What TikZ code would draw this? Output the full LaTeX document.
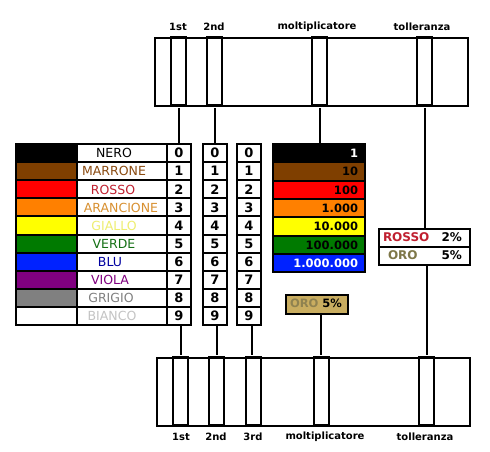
\documentclass[tikz,border=0pt]{standalone}
\usepackage{fontspec}
\setmainfont{DejaVu Sans}
\definecolor{cbrown}{HTML}{7F3F00}
\definecolor{cred}{HTML}{FF0000}
\definecolor{corange}{HTML}{FF8000}
\definecolor{cyellow}{HTML}{FFFF00}
\definecolor{cgreen}{HTML}{007A00}
\definecolor{cblue}{HTML}{0022FF}
\definecolor{cviolet}{HTML}{800080}
\definecolor{cgrey}{HTML}{808080}
\definecolor{tbrown}{HTML}{8A4A10}
\definecolor{tred}{HTML}{C02030}
\definecolor{torange}{HTML}{D89030}
\definecolor{tyellow}{HTML}{EEEE70}
\definecolor{tgreen}{HTML}{157015}
\definecolor{tblue}{HTML}{0000A0}
\definecolor{tviolet}{HTML}{800080}
\definecolor{tgrey}{HTML}{808080}
\definecolor{twhite}{HTML}{C4C4C4}
\definecolor{orofill}{HTML}{C9AD60}
\definecolor{orotext}{HTML}{8F8250}
\definecolor{orotextb}{HTML}{7E7748}
\begin{document}
\begin{tikzpicture}[x=1pt,y=-1pt,line width=2pt,
  cell/.style={draw=black,minimum width=#1,minimum height=18.1pt,inner sep=0pt,outer sep=0pt,anchor=north west},
  mcell/.style={draw=black,minimum width=92pt,minimum height=18.3pt,inner sep=0pt,outer sep=0pt,anchor=north west},
  band/.style={draw=black,minimum width=15pt,minimum height=68pt,inner sep=0pt,outer sep=0pt,anchor=north west},
  nametxt/.style={font=\fontsize{12.5}{13}\selectfont,inner sep=0pt},
  digtxt/.style={font=\bfseries\fontsize{13}{13}\selectfont,inner sep=0pt},
  multxt/.style={font=\bfseries\fontsize{11.5}{12}\selectfont,inner sep=0pt,anchor=east},
  labtxt/.style={font=\bfseries\fontsize{10}{10}\selectfont,inner sep=0pt},
  toltxt/.style={font=\bfseries\fontsize{12}{12}\selectfont,inner sep=0pt}]
\useasboundingbox[fill=white] (0,0) rectangle (490,452);

% top resistor
\node[draw=black,minimum width=313pt,minimum height=68pt,inner sep=0pt,anchor=north west] (RT) at (154,37) {};
\node[band] (tb1) at (171,37) {};
\node[band] (tb2) at (207,37) {};
\node[band] (tb3) at (312,37) {};
\node[band] (tb4) at (417,37) {};
\node[labtxt] (lt1) at (178,27) {1st};
\node[labtxt] (lt2) at (214,27) {2nd};
\node[labtxt] (lt3) at (317,27) {moltiplicatore};
\node[labtxt] (lt4) at (422,27) {tolleranza};

% bottom resistor
\node[draw=black,minimum width=313pt,minimum height=68pt,inner sep=0pt,anchor=north west] (RB) at (156,357) {};
\node[band] (bb1) at (173,357) {};
\node[band] (bb2) at (209,357) {};
\node[band] (bb3) at (246,357) {};
\node[band] (bb4) at (314,357) {};
\node[band] (bb5) at (419,357) {};
\node[labtxt] (lb1) at (181,437) {1st};
\node[labtxt] (lb2) at (216,437) {2nd};
\node[labtxt] (lb3) at (253,437) {3rd};
\node[labtxt] (lb4) at (325,437) {moltiplicatore};
\node[labtxt] (lb5) at (425,437) {tolleranza};

% colour code table
\foreach \i/\fc/\nm/\tc/\tx in {0/black/NERO/black/114,1/cbrown/MARRONE/tbrown/114,2/cred/ROSSO/tred/113,3/corange/ARANCIONE/torange/121,4/cyellow/GIALLO/tyellow/114,5/cgreen/VERDE/tgreen/114,6/cblue/BLU/tblue/110,7/cviolet/VIOLA/tviolet/110,8/cgrey/GRIGIO/tgrey/111,9/white/BIANCO/twhite/112}{
  \pgfmathsetmacro\yy{144+\i*18.1}
  \node[cell=61pt,fill=\fc] (c\i) at (16,\yy) {};
  \node[cell=90pt] (n\i) at (77,\yy) {};
  \node[nametxt,text=\tc] (t\i) at (\tx,\yy+9.3) {\nm};
  \node[cell=24pt] (a\i) at (167,\yy) {};
  \node[cell=24pt] (b\i) at (203,\yy) {};
  \node[cell=24pt] (e\i) at (237,\yy) {};
  \node[digtxt] (da\i) at (a\i.center) {\i};
  \node[digtxt] (db\i) at (b\i.center) {\i};
  \node[digtxt] (de\i) at (e\i.center) {\i};
}

% multiplier table
\foreach \j/\fc/\val/\tc in {0/black/1/white,1/cbrown/10/black,2/cred/100/black,3/corange/1.000/black,4/cyellow/10.000/black,5/cgreen/100.000/black,6/cblue/1.000.000/white}{
  \pgfmathsetmacro\yy{144+\j*18.3}
  \node[mcell,fill=\fc] (m\j) at (273,\yy) {};
  \node[multxt,text=\tc] (mt\j) at (359,\yy+9.4) {\val};
}

% tolerance table
\node[draw=black,minimum width=91pt,minimum height=18pt,inner sep=0pt,anchor=north west] (tr0) at (378,228) {};
\node[draw=black,minimum width=91pt,minimum height=18pt,inner sep=0pt,anchor=north west] (tr1) at (378,246) {};
\node[toltxt,text=tred,anchor=west] (tr0a) at (382,237.3) {ROSSO};
\node[toltxt,anchor=east] (tr0b) at (463,237.3) {2\%};
\node[toltxt,text=orotextb,anchor=west] (tr1a) at (387,255.3) {ORO};
\node[toltxt,anchor=east] (tr1b) at (463,255.3) {5\%};

% ORO 5% box
\node[draw=black,fill=orofill,minimum width=62pt,minimum height=19pt,inner sep=0pt,anchor=north west] (ob) at (285,294) {};
\node[font=\bfseries\fontsize{11.5}{12}\selectfont,text=orotext,inner sep=0pt,anchor=west] (oba) at (289,303.8) {ORO};
\node[font=\bfseries\fontsize{11.5}{12}\selectfont,inner sep=0pt,anchor=east] (obb) at (343,303.8) {5\%};

% connectors
\draw[shorten <=3pt] (tb1.south) -- (tb1.south |- a0.north);
\draw[shorten <=3pt] (tb2.south) -- (tb2.south |- b0.north);
\draw[shorten <=3pt] (tb3.south) -- (tb3.south |- m0.north);
\draw[shorten <=3pt] (tb4.south) -- (tb4.south |- tr0.north);
\draw[shorten >=2pt] (bb1.north |- a9.south) -- (bb1.north);
\draw[shorten >=2pt] (bb2.north |- b9.south) -- (bb2.north);
\draw[shorten >=2pt] ([xshift=-2pt]bb3.north |- e9.south) -- ([xshift=-2pt]bb3.north);
\draw[shorten >=2pt] ([xshift=-1pt]bb4.north |- ob.south) -- ([xshift=-1pt]bb4.north);
\draw[shorten >=2pt] (bb5.north |- tr1.south) -- (bb5.north);
\end{tikzpicture}
\end{document}
